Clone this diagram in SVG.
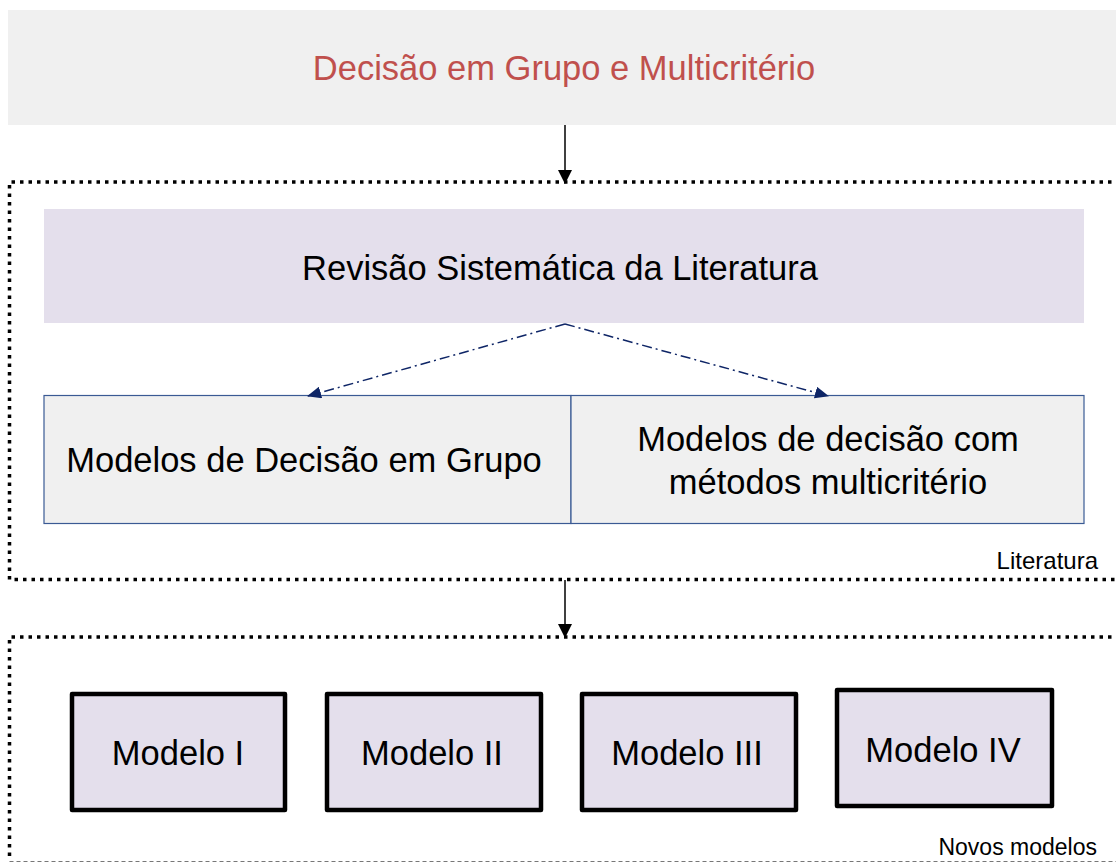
<svg xmlns="http://www.w3.org/2000/svg" width="1116" height="864" viewBox="0 0 1116 864">
<defs>
<style>
text{font-family:"Liberation Sans",Arial,sans-serif;text-anchor:middle;fill:#000}
.frame{fill:none;stroke:#000;stroke-width:3.5;stroke-dasharray:3.5 5}
.model{fill:#e4dfec;stroke:#000;stroke-width:4.5;stroke-linejoin:round}
.sub{fill:#f0f0f0;stroke:#3a5a94;stroke-width:1.2}
.big{font-size:34.5px}
.lbl{font-size:24px;text-anchor:end}
</style>
<marker id="ahb" markerWidth="14" markerHeight="12" refX="13" refY="6" orient="auto" markerUnits="userSpaceOnUse" viewBox="0 0 14 12"><path d="M0,0 L14,6 L0,12 z" fill="#0e2566"/></marker>
<marker id="ahk" markerWidth="14" markerHeight="14" refX="13" refY="7" orient="auto" markerUnits="userSpaceOnUse" viewBox="0 0 14 14"><path d="M0,0 L14,7 L0,14 z" fill="#000"/></marker>
</defs>
<g id="top">
<rect x="8" y="10" width="1108" height="115" fill="#f0f0f0"/>
<text x="564" y="80" style="font-size:34.5px;fill:#c0504d">Decisão em Grupo e Multicritério</text>
</g>
<g id="literatura-frame">
<path class="frame" d="M1120,182 H9.5 V579.5 H1120"/>
<text class="lbl" x="1098" y="569">Literatura</text>
</g>
<g id="revisao">
<rect x="44" y="209" width="1040" height="114" fill="#e4dfec"/>
<text class="big" x="560" y="280">Revisão Sistemática da Literatura</text>
</g>
<g id="grupo">
<rect class="sub" x="44" y="395.5" width="527" height="128"/>
<text class="big" x="304" y="472">Modelos de Decisão em Grupo</text>
</g>
<g id="multicriterio">
<rect class="sub" x="571" y="395.5" width="513" height="128"/>
<text class="big" x="828" y="451">Modelos de decisão com</text>
<text class="big" x="828" y="494">métodos multicritério</text>
</g>
<g id="novos-frame">
<path class="frame" d="M1120,637 H9.5 V858"/>
<path d="M9.5,861.5 H1116" fill="none" stroke="#777" stroke-width="1" stroke-dasharray="4 3"/>
<text class="lbl" x="1097" y="855" style="font-size:23px">Novos modelos</text>
</g>
<g id="modelo1">
<rect class="model" x="72" y="694" width="213" height="116"/>
<text class="big" x="178" y="765">Modelo I</text>
</g>
<g id="modelo2">
<rect class="model" x="327" y="694" width="214" height="116"/>
<text class="big" x="432" y="765">Modelo II</text>
</g>
<g id="modelo3">
<rect class="model" x="582" y="694" width="214" height="116"/>
<text class="big" x="687" y="765">Modelo III</text>
</g>
<g id="modelo4">
<rect class="model" x="837" y="690" width="215" height="116"/>
<text class="big" x="943" y="762">Modelo IV</text>
</g>
<g id="connectors">
<line x1="565" y1="125" x2="565" y2="183" stroke="#000" stroke-width="1.5" marker-end="url(#ahk)"/>
<line x1="565" y1="580" x2="565" y2="637" stroke="#000" stroke-width="1.5" marker-end="url(#ahk)"/>
<path d="M565,324 L308,396" fill="none" stroke="#0e2566" stroke-width="1.5" stroke-dasharray="10 4 2 4" marker-end="url(#ahb)"/>
<path d="M565,324 L828,396" fill="none" stroke="#0e2566" stroke-width="1.5" stroke-dasharray="10 4 2 4" marker-end="url(#ahb)"/>
</g>
</svg>
